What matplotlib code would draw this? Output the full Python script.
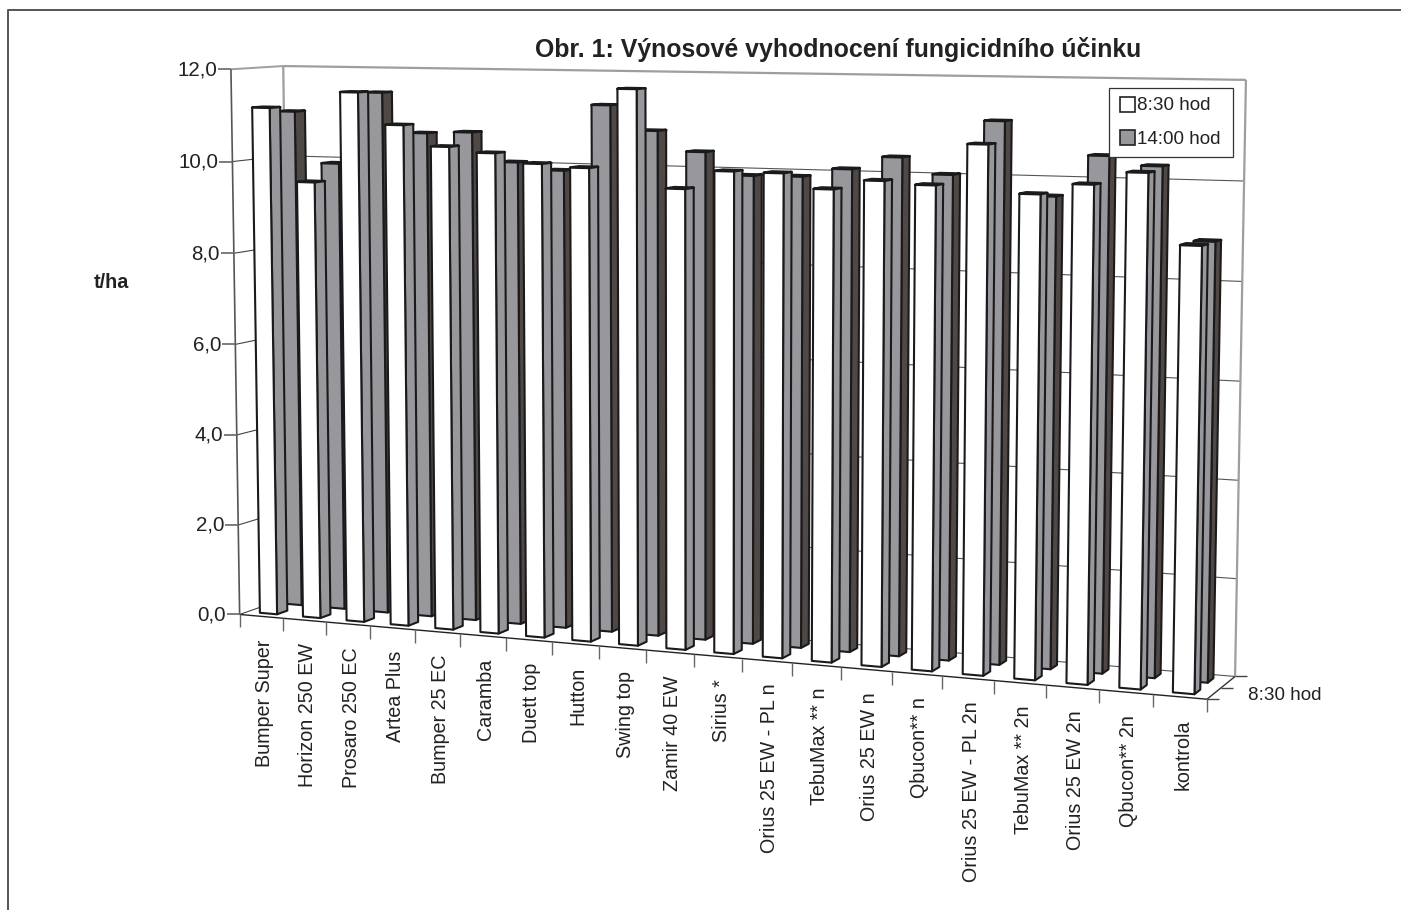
import matplotlib
matplotlib.use('Agg')
import matplotlib.pyplot as plt
from matplotlib.patches import Polygon, Rectangle
import numpy as np

W=1401
H=910

categories=['Bumper Super','Horizon 250 EW','Prosaro 250 EC','Artea Plus','Bumper 25 EC',
            'Caramba','Duett top','Hutton','Swing top','Zamir 40 EW','Sirius *',
            'Orius 25 EW - PL n','TebuMax ** n','Orius 25 EW n','Qbucon** n',
            'Orius 25 EW - PL 2n','TebuMax ** 2n','Orius 25 EW 2n','Qbucon** 2n','kontrola']
# yield in t/ha
morning=[11.16,9.57,11.53,10.85,10.41,10.30,10.10,10.04,11.70,9.66,
         10.05,10.04,9.74,9.94,9.88,10.72,9.76,9.98,10.24,8.85]
afternoon=[11.03,9.91,11.48,10.62,10.66,10.04,9.89,11.30,10.78,10.36,
           9.89,9.90,10.08,10.35,10.02,11.13,9.64,10.48,10.30,8.84]
yticks=[0,2,4,6,8,10,12]
ytick_labels=['0,0','2,0','4,0','6,0','8,0','10,0','12,0']
title='Obr. 1: Výnosové vyhodnocení fungicidního účinku'
ylabel='t/ha'
series_names=['8:30 hod','14:00 hod']

GRAY='#98979c'
DARK='#4f4845'
TOP='#1c1c1e'
LINE='#1a1a1c'
WALL='#a09d9a'

# camera calibration: box coordinates (category, value, depth) -> pixel
box=np.array([[0,0,0],[20,0,0],[0,12,0],[0,0,1],[20,0,1],[0,12,1],[20,12,1],
              [1,0,0],[5,0,0],[17,0,0],[19,0,0],[0,10,0],[0,2,0]],float)
pix=np.array([[240,615],[1207,699],[231,69],[291,596],[1235,677],[283,66],[1246,80],
              [282,619],[460,634],[1046,685],[1153,694],[232.5,162],[238.5,524]],float)
rows=[]
for (a,b,c),(u,v) in zip(box,pix):
    rows.append([a,b,c,1,0,0,0,0,-u*a,-u*b,-u*c,-u])
    rows.append([0,0,0,0,a,b,c,1,-v*a,-v*b,-v*c,-v])
P=np.linalg.svd(np.array(rows))[2][-1].reshape(3,4)

def proj(x,y,z):
    q=P@np.array([x,y,z,1.0])
    return q[0]/q[2],q[1]/q[2]

fig=plt.figure(figsize=(W/100,H/100),dpi=100)
ax=fig.add_axes([0,0,1,1])
ax.set_xlim(0,W)
ax.set_ylim(H,0)
ax.axis('off')
plt.rcParams['font.family']=['Liberation Sans','DejaVu Sans']

def line(p,q,color='#333333',lw=1.0,z=1):
    ax.plot([p[0],q[0]],[p[1],q[1]],color=color,lw=lw,zorder=z,solid_capstyle='butt')

# outer frame
ax.plot([8,8,W],[H,10,10],color='#555555',lw=1.4,zorder=1)

# walls and grid
for v in yticks[:-1]:
    line(proj(0,v,0),proj(0,v,1),'#444444',0.8)
    line(proj(0,v,1),proj(20,v,1),'#555555',0.8)
line(proj(0,12,0),proj(0,12,1),WALL,1.4)
line(proj(0,12,1),proj(20,12,1),WALL,1.6)
line(proj(0,0,1),proj(0,12,1),WALL,1.6)
line(proj(20,0,1),proj(20,12,1),WALL,1.6)
line(proj(0,0,0),proj(0,12,0),'#555555',1.2)
line(proj(0,0,0),proj(20,0,0),'#222222',1.0)
line(proj(20,0,0),proj(20,0,1),'#333333',1.0)

# value axis
for v,lab in zip(yticks,ytick_labels):
    px,py=proj(0,v,0)
    line((px-13,py),(px,py),'#666666',1.2)
    ax.text(px-14,py+0.5,lab,ha='right',va='center',fontsize=14.8,color='#222222')

# category ticks and labels
for i in range(21):
    px,py=proj(i,0,0)
    line((px,py),(px,py+13),'#666666',1.0)
for i,c in enumerate(categories):
    px,py=proj(i+0.5,0,0)
    ax.text(px+3,py+23,c,rotation=90,ha='center',va='top',fontsize=14.2,color='#222222')

# depth axis ticks
for d in [0,0.5,1]:
    px,py=proj(20,0,d)
    line((px,py),(px+12,py),'#444444',1.0)
ax.text(1285,695,series_names[0],ha='center',va='center',fontsize=13.6,color='#222222')

def bar(i,val,z0,z1,front,side,shift):
    x0=i+0.27+shift
    x1=i+0.67+shift
    s=[proj(x1,0,z0),proj(x1,0,z1),proj(x1,val,z1),proj(x1,val,z0)]
    f=[proj(x0,0,z0),proj(x1,0,z0),proj(x1,val,z0),proj(x0,val,z0)]
    t=[proj(x0,val,z0),proj(x1,val,z0),proj(x1,val,z1),proj(x0,val,z1)]
    ax.add_patch(Polygon(t,closed=True,facecolor=TOP,edgecolor=TOP,lw=2.0,zorder=3,joinstyle='round'))
    for pts,col in ((s,side),(f,front)):
        ax.add_patch(Polygon(pts,closed=True,facecolor=col,edgecolor=LINE,lw=1.5,zorder=3,joinstyle='round'))

for i,v in enumerate(afternoon):
    bar(i,v,0.65,0.85,GRAY,DARK,0)
for i,v in enumerate(morning):
    bar(i,v,0.15,0.35,'white',GRAY,0.02)

# legend
ax.add_patch(Rectangle((1109,88),124,69,facecolor='white',edgecolor='#333333',lw=0.9,zorder=5))
ax.add_patch(Rectangle((1120,97),15,15,facecolor='white',edgecolor='#222222',lw=1.2,zorder=6))
ax.add_patch(Rectangle((1120,130),15,15,facecolor=GRAY,edgecolor='#222222',lw=1.2,zorder=6))
ax.text(1137,106,series_names[0],ha='left',va='center',fontsize=13.6,color='#222222',zorder=6)
ax.text(1137,139,series_names[1],ha='left',va='center',fontsize=13.6,color='#222222',zorder=6)

ax.text(838,50,title,ha='center',va='center',fontsize=17.9,fontweight='bold',color='#222222')
ax.text(111,282,ylabel,ha='center',va='center',fontsize=14.2,fontweight='bold',color='#222222')

fig.savefig('out.png',dpi=100)
